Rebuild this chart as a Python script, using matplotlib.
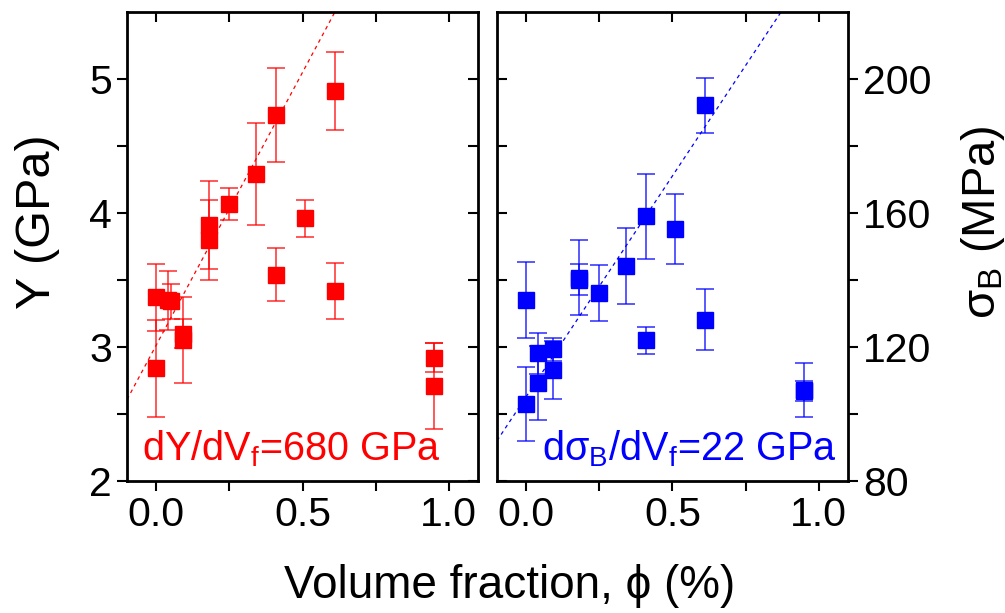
import numpy as np
import matplotlib
matplotlib.use("Agg")
import matplotlib.pyplot as plt

plt.rcParams['font.family'] = ['Liberation Sans', 'DejaVu Sans']
plt.rcParams['mathtext.fontset'] = 'custom'
plt.rcParams['mathtext.rm'] = 'Liberation Sans'
plt.rcParams['mathtext.it'] = 'Liberation Sans:italic'

# Young's modulus data (left panel)
phi_Y = [0.0, 0.0, 0.04, 0.05, 0.09, 0.09, 0.18, 0.18, 0.25, 0.34, 0.41, 0.41, 0.51, 0.61, 0.61, 0.95, 0.95]
Y = [2.84, 3.37, 3.35, 3.34, 3.10, 3.05, 3.91, 3.80, 4.07, 4.29, 4.73, 3.54, 3.96, 4.91, 3.42, 2.92, 2.71]
Y_err = [0.36, 0.25, 0.22, 0.13, 0.11, 0.32, 0.33, 0.30, 0.12, 0.38, 0.35, 0.20, 0.14, 0.29, 0.21, 0.11, 0.32]
Y_fit = (3.015, 4.07)  # intercept, slope

# Breaking strength data (right panel)
phi_s = [0.0, 0.0, 0.04, 0.04, 0.09, 0.09, 0.18, 0.18, 0.25, 0.34, 0.41, 0.41, 0.51, 0.61, 0.61, 0.95, 0.95]
sigma = [103.0, 134.0, 118.1, 109.3, 119.3, 113.1, 140.7, 140.1, 136.1, 144.2, 159.0, 122.0, 155.2, 192.1, 128.2, 107.1, 106.9]
sigma_err = [11.1, 11.3, 6.2, 11.1, 3.5, 8.6, 11.2, 4.6, 8.4, 11.4, 12.7, 4.0, 10.5, 8.1, 9.2, 8.0, 3.1]
s_fit = (105.2, 131.8)

fs = 29.5
fs_lab = 35
fig = plt.figure(figsize=(10.05, 6.13), dpi=100)
ax1 = fig.add_axes([0.1264, 0.2153, 0.3493, 0.7651])
ax2 = fig.add_axes([0.4945, 0.2153, 0.3493, 0.7651])

xx = np.array([-0.1, 1.1])

def draw(ax, x, y, err, fit, color):
    ax.errorbar(x, y, yerr=err, fmt='none', ecolor=color, elinewidth=1.3,
                capsize=6.5, capthick=1.3, alpha=0.7, zorder=2)
    ax.plot(x, y, 's', color=color, markersize=11.5, zorder=3)
    ax.plot(xx, fit[0] + fit[1] * xx, color=color, lw=0.9,
            linestyle=(0, (3, 3)), zorder=1)
    ax.set_xlim(-0.1, 1.1)
    ax.set_xticks([0.0, 0.5, 1.0])
    ax.set_xticklabels(['0.0', '0.5', '1.0'])
    ax.set_xticks([0.25, 0.75], minor=True)
    for s in ax.spines.values():
        s.set_linewidth(2)

draw(ax1, phi_Y, Y, Y_err, Y_fit, '#ff0000')
ax1.set_ylim(2, 5.5)
ax1.set_yticks([2, 3, 4, 5])
ax1.set_yticks([2.5, 3.5, 4.5], minor=True)
ax1.tick_params(which='both', direction='out', labelsize=fs, width=1.5, length=7, pad=4)
ax1.tick_params(which='both', top=True, right=True)
ax1.text(0.043, 0.045, r'dY/dV$_\mathregular{f}$=680 GPa', transform=ax1.transAxes,
         color='#ff0000', fontsize=28.5)

draw(ax2, phi_s, sigma, sigma_err, s_fit, '#0000ff')
ax2.set_ylim(80, 220)
ax2.set_yticks([80, 120, 160, 200])
ax2.set_yticks([100, 140, 180], minor=True)
ax2.yaxis.tick_right()
ax2.tick_params(which='both', direction='out', labelsize=fs, width=1.5, length=7, pad=4)
ax2.tick_params(which='both', top=True, left=True)
ax2.text(0.128, 0.045, r'dσ$_\mathregular{B}$/dV$_\mathregular{f}$=22 GPa', transform=ax2.transAxes,
         color='#0000ff', fontsize=28.5)

# mirrored ticks (top, inner sides) point inward
for t in ax1.xaxis.get_major_ticks() + ax1.xaxis.get_minor_ticks() + \
         ax2.xaxis.get_major_ticks() + ax2.xaxis.get_minor_ticks():
    t.tick2line.set_marker(3)
for t in ax1.yaxis.get_major_ticks() + ax1.yaxis.get_minor_ticks():
    t.tick2line.set_marker(0)
for t in ax2.yaxis.get_major_ticks() + ax2.yaxis.get_minor_ticks():
    t.tick1line.set_marker(1)

# axis titles
fig.text(0.037, 1 - 222 / 613, 'Y (GPa)', rotation=90, ha='center', va='center', fontsize=fs_lab)
fig.text(0.978, 1 - 222 / 613, r'σ$_\mathregular{B}$ (MPa)', rotation=90, ha='center', va='center',
         fontsize=fs_lab - 1)
fig.text(0.507, 0.008, 'Volume fraction, ϕ (%)', ha='center', va='bottom', fontsize=33)

fig.savefig('out.png', dpi=100)
